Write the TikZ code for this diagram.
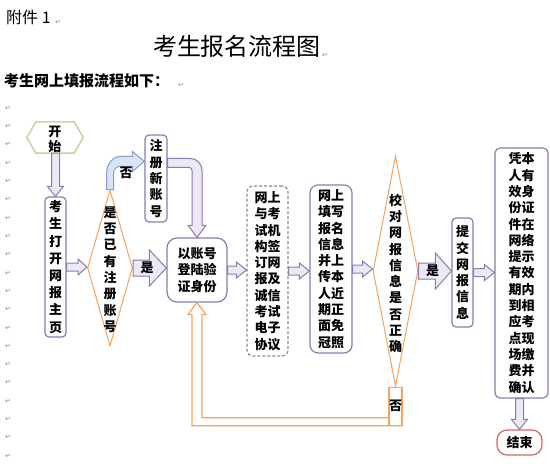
\documentclass[tikz,border=0pt]{standalone}
\usepackage{fontspec}
\setmainfont{Noto Sans CJK SC}
\newfontfamily\symfont{DejaVu Sans}
\usetikzlibrary{calc,shapes.geometric}
\definecolor{BoxPurple}{HTML}{8C7AB0}
\definecolor{ArrowFill}{HTML}{ECE8F4}
\definecolor{LineOrange}{HTML}{F2A35E}
\definecolor{HexGreen}{HTML}{C3D69B}
\definecolor{BlueLine}{HTML}{7F9FCF}
\definecolor{BlueFill}{HTML}{D9E4F2}
\definecolor{EndRed}{HTML}{CC6B69}
\definecolor{DashGray}{HTML}{8E889E}
\definecolor{MarkGray}{HTML}{8A8A8A}

% hollow block arrows: style, from, to, half shaft, half head, head length
\newcommand\rblock[6]{\draw[#1] let \p1=(#2.east), \p2=(#3.west) in
  (\x1,\y1+#4pt) -- (\x2-#6pt,\y1+#4pt) -- (\x2-#6pt,\y1+#5pt) -- (\x2,\y1)
  -- (\x2-#6pt,\y1-#5pt) -- (\x2-#6pt,\y1-#4pt) -- (\x1,\y1-#4pt) -- cycle;}
\newcommand\dblock[6]{\draw[#1] let \p1=(#2.south), \p2=(#3.north) in
  (\x2-#4pt,\y1) -- (\x2-#4pt,\y2+#6pt) -- (\x2-#5pt,\y2+#6pt) -- (\x2,\y2)
  -- (\x2+#5pt,\y2+#6pt) -- (\x2+#4pt,\y2+#6pt) -- (\x2+#4pt,\y1) -- cycle;}

\begin{document}
\begin{tikzpicture}[x=1pt, y=-1pt,
    vbox/.style={rounded corners=4pt, draw=BoxPurple, line width=1.2pt, fill=white,
                 inner sep=0pt, align=center, font=\bfseries\fontsize{13}{16.3}\selectfont},
    dbox/.style={vbox, draw=DashGray, dash pattern=on 3pt off 2pt},
    diam/.style={diamond, draw=LineOrange, line width=1pt, inner sep=0pt},
    vtext/.style={inner sep=0pt, align=center, font=\bfseries\fontsize{13}{16.3}\selectfont},
    hexa/.style={draw=HexGreen, line width=1.5pt},
    obox/.style={draw=LineOrange, line width=1.2pt, fill=white, inner sep=0pt,
                 minimum width=12pt, minimum height=38pt, font=\bfseries\fontsize{13}{13}\selectfont},
    parr/.style={draw=BoxPurple, line width=1pt, fill=ArrowFill},
    oarr/.style={draw=LineOrange, line width=1.2pt},
    barr/.style={draw=BlueLine, line width=1pt, fill=BlueFill},
    lbl/.style={inner sep=0pt, font=\bfseries\fontsize{13}{13}\selectfont},
    pmark/.style={inner sep=0pt, text=MarkGray, font=\symfont\fontsize{7}{7}\selectfont},
  ]
    \fill[white] (0,0) rectangle (550,471);
    \useasboundingbox (0,0) rectangle (550,471);

    % Encabezado
    \node[anchor=west, inner sep=0pt, font=\fontsize{16}{16}\selectfont] (fujian) at (6,17) {附件 1};
    \node[inner sep=0pt, font=\fontsize{24}{24}\selectfont] (title) at (237,46) {考生报名流程图};
    \node[anchor=west, inner sep=0pt, font=\bfseries\fontsize{15}{15}\selectfont] (intro) at (4,81) {考生网上填报流程如下：};
    \node[pmark] (mk1) at (58,22) {↵};
    \node[pmark] (mk2) at (325,55) {↵};
    \node[pmark] (mk3) at (181,85) {↵};
    \foreach \i in {0,...,19}
      \node[pmark] (m\i) at (8,108+18.32*\i) {↵};

    % Nodos
    \node[inner sep=0pt, minimum width=56pt, minimum height=31pt] (start) at (55,137.5) {};
    \node[vtext, font=\bfseries\fontsize{13}{15}\selectfont] (starttxt) at (55,139) {开\\始};
    \draw[hexa] (start.west) -- ($(start.north west)+(9,0)$) -- ($(start.north east)+(-9,0)$)
      -- (start.east) -- ($(start.south east)+(-9,0)$) -- ($(start.south west)+(9,0)$) -- cycle;
    \node[vbox, font=\bfseries\fontsize{13}{17.2}\selectfont, minimum width=21pt, minimum height=140pt] (kaosheng) at (55.5,267) {考\\生\\打\\开\\网\\报\\主\\页};
    \node[diam, minimum width=45pt, minimum height=156pt] (yes) at (110,268) {};
    \node[vtext] (yestxt) at (110,269.5) {是\\否\\已\\有\\注\\册\\账\\号};
    \node[vbox, minimum width=22pt, minimum height=87pt] (zhuce) at (156,178.5) {注\\册\\新\\账\\号};
    \node[vbox, rounded corners=10pt, font=\bfseries\fontsize{13}{16.5}\selectfont, minimum width=60pt, minimum height=64pt] (denglu) at (197,270) {以账号\\登陆验\\证身份};
    \node[dbox, rounded corners=6pt, minimum width=41pt, minimum height=170pt] (xieyi) at (267.5,271) {网上\\与考\\试机\\构签\\订网\\报及\\诚信\\考试\\电子\\协议};
    \node[vbox, rounded corners=8pt, minimum width=42pt, minimum height=168pt] (tianxie) at (331,269) {网上\\填写\\报名\\信息\\并上\\传本\\人近\\期正\\面免\\冠照};
    \node[diam, minimum width=45pt, minimum height=230pt] (jiaodui) at (395.5,271) {};
    \node[vtext] (jdtxt) at (395.5,273.5) {校\\对\\网\\报\\信\\息\\是\\否\\正\\确};
    \node[obox, anchor=north] (no2) at (jiaodui.south) {否};
    \node[vbox, minimum width=21pt, minimum height=109pt] (tijiao) at (462.5,272.5) {提\\交\\网\\报\\信\\息};
    \node[vbox, rounded corners=5pt, minimum width=53pt, minimum height=250pt] (pingben) at (521.5,273) {凭本\\人有\\效身\\份证\\件在\\网络\\提示\\有效\\期内\\到相\\应考\\点现\\场缴\\费并\\确认};
    \node[vbox, draw=EndRed, rounded corners=10pt, minimum width=45pt, minimum height=25pt] (end) at (519.5,442.5) {结束};

    % Flechas huecas
    \dblock{parr}{start}{kaosheng}{4}{8}{10}
    \rblock{parr}{kaosheng}{yes}{4}{8}{9}
    \rblock{parr}{yes}{denglu}{8}{18}{17}
    \rblock{parr}{denglu}{xieyi}{4}{8}{10}
    \rblock{parr}{xieyi}{tianxie}{4}{8}{10}
    \rblock{parr}{tianxie}{jiaodui}{4}{8}{10}
    \rblock{parr}{jiaodui}{tijiao}{8}{18}{16}
    \rblock{parr}{tijiao}{pingben}{4}{8}{10}
    \dblock{parr}{pingben}{end}{4}{8}{10}
    \node[lbl] (yes1) at ($(yes.east)+(14,0)$) {是};
    \node[lbl] (yes2) at ($(jiaodui.east)+(14,0)$) {是};

    % Registro nuevo -> login
    \coordinate (zb) at ($(zhuce.north east)+(0,28.5)$);
    \coordinate (zc) at (denglu.north |- zb);
    \draw[parr] ($(zb)+(0,-4.5)$) -- ($(zc)+(-7,-4.5)$) to[out=0,in=90] ($(zc)+(5,7.5)$)
      -- ($(denglu.north)+(5,-12)$) -- ($(denglu.north)+(9,-12)$) -- (denglu.north)
      -- ($(denglu.north)+(-9,-12)$) -- ($(denglu.north)+(-5,-12)$)
      -- ($(zc)+(-5,7.5)$) to[out=90,in=0] ($(zc)+(-8,4.5)$) -- ($(zb)+(0,4.5)$) -- cycle;

    % Rama "no" hacia registro
    \coordinate (ntip) at ($(zhuce.north west)+(0,27)$);
    \coordinate (nc) at (yes.north |- ntip);
    \draw[barr] ($(yes.north)+(-3.5,0)$) -- ($(nc)+(-3.5,12)$) to[out=90,in=180] ($(nc)+(11,-5)$)
      -- ($(ntip)+(-12,-5)$) -- ($(ntip)+(-12,-10)$) -- (ntip) -- ($(ntip)+(-12,10)$)
      -- ($(ntip)+(-12,5)$) -- ($(nc)+(10,5)$) to[out=180,in=90] ($(nc)+(3.5,12)$)
      -- ($(yes.north)+(3.5,0)$) -- cycle;
    \node[lbl] (no1) at ($(nc)+(16,11)$) {否};

    % Retorno si la informacion no es correcta
    \coordinate (lc) at (denglu.south |- no2.south);
    \draw[oarr] (no2.south east) -- ($(lc)+(-5,0)$) -- ($(denglu.south)+(-5,12)$)
      -- ($(denglu.south)+(-9,12)$) -- (denglu.south) -- ($(denglu.south)+(9,12)$)
      -- ($(denglu.south)+(5,12)$) -- ($(lc)+(5,-8)$) -- ($(no2.south west)+(0,-8)$);
  \end{tikzpicture}
\end{document}
